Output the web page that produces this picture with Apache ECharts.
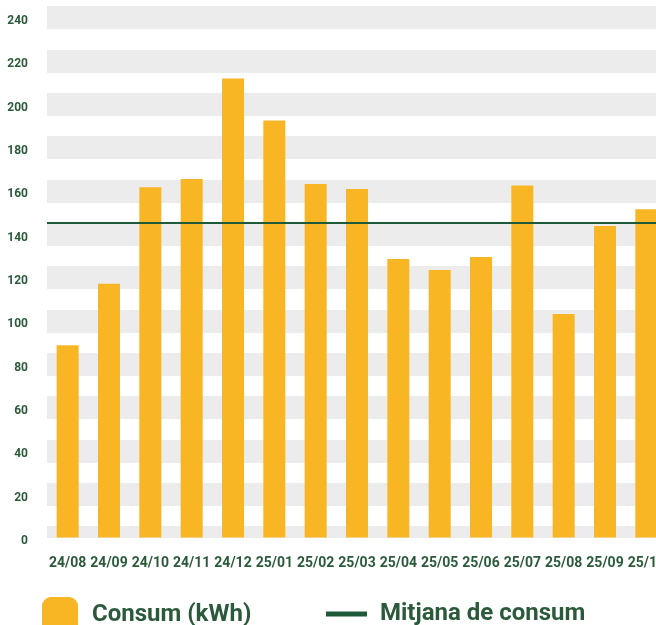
<!DOCTYPE html>
<html>
<head>
<meta charset="utf-8">
<script src="https://cdn.jsdelivr.net/npm/echarts@6/dist/echarts.min.js"></script>
<style>
html,body{margin:0;padding:0;background:#fff;overflow:hidden;width:656px;height:625px;}
#c{width:700px;height:625px;}
</style>
</head>
<body>
<div id="c"></div>
<script>
const categories = ['24/08','24/09','24/10','24/11','24/12','25/01','25/02','25/03','25/04','25/05','25/06','25/07','25/08','25/09','25/10'];
const consum = [88.7,117.1,161.6,165.5,211.9,192.5,163.2,160.8,128.5,123.5,129.5,162.5,103.2,143.8,151.5];
const mitjana = 145.5;
const yTicks = {min:0, max:240, interval:20};

const green = '#2b5a3b';
const lineGreen = '#1c5a3a';
const yellow = '#f9b624';

const chart = echarts.init(document.getElementById('c'));
chart.setOption({
  animation:false,
  textStyle:{fontFamily:'Roboto'},
  grid:{left:47, top:17.5, width:620, height:520, containLabel:false},
  legend:[
    {left:42, top:597, padding:0, itemWidth:36, itemHeight:36, selectedMode:false,
     data:[{name:'Consum (kWh)', icon:'roundRect'}],
     textStyle:{fontSize:24, fontWeight:'bold', color:green, fontFamily:'Roboto', padding:[0,0,0,9]}},
    {left:326, top:602, padding:0, itemWidth:41, itemHeight:5, selectedMode:false,
     data:[{name:'Mitjana de consum', icon:'rect', itemStyle:{color:lineGreen}}],
     textStyle:{fontSize:24, fontWeight:'bold', color:green, fontFamily:'Roboto', padding:[0,0,0,8]}}
  ],
  xAxis:{type:'category', data:categories,
    axisLine:{show:false}, axisTick:{show:false},
    axisLabel:{interval:0, margin:19, fontSize:14, fontWeight:'bold', color:green, fontFamily:'Roboto'}},
  yAxis:{type:'value', min:yTicks.min, max:yTicks.max, interval:yTicks.interval,
    axisLine:{show:false}, axisTick:{show:false},
    axisLabel:{margin:19, fontSize:12, fontWeight:'bold', color:green, fontFamily:'Roboto', verticalAlign:'top', lineHeight:7},
    splitLine:{show:true, lineStyle:{color:'#ececec', width:23}}},
  series:[
    {name:'Consum (kWh)', type:'bar', data:consum, barWidth:22, itemStyle:{color:yellow}},
    {name:'Mitjana de consum', type:'line', data:[], itemStyle:{color:lineGreen},
     markLine:{silent:true, symbol:'none', label:{show:false},
       lineStyle:{color:lineGreen, width:2, type:'solid'},
       data:[{yAxis:mitjana}]}}
  ]
});
const y0 = chart.convertToPixel({yAxisIndex:0}, 0);
const gx = chart.convertToPixel({xAxisIndex:0}, 0) - 21;
chart.setOption({graphic:[{type:'rect', z:1, shape:{x:gx, y:y0+0.5, width:700, height:12}, style:{fill:'#fff'}}]});
</script>
</body>
</html>
